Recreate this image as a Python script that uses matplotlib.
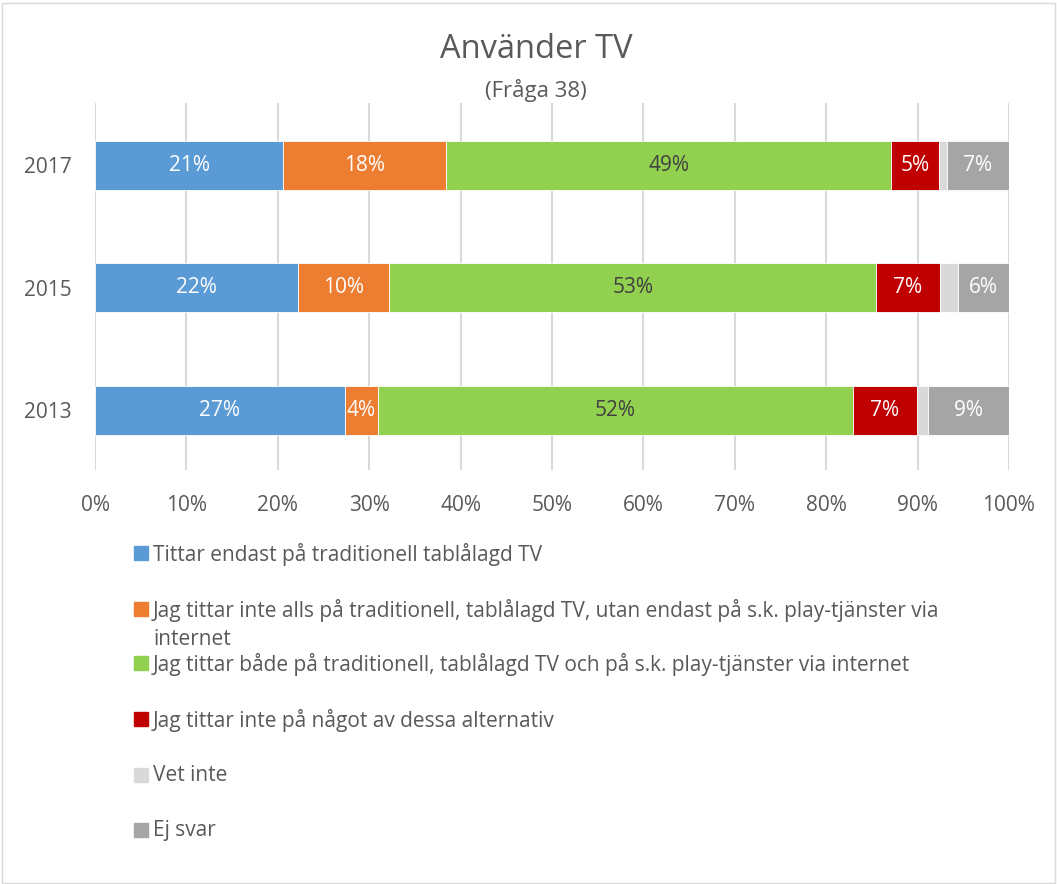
import matplotlib.pyplot as plt
from matplotlib.patches import Rectangle
import numpy as np

plt.rcParams["font.family"] = ["Open Sans", "DejaVu Sans"]

years = ["2013", "2015", "2017"]
series = [
    "Tittar endast på traditionell tablålagd TV",
    "Jag tittar inte alls på traditionell, tablålagd TV, utan endast på s.k. play-tjänster via\ninternet",
    "Jag tittar både på traditionell, tablålagd TV och på s.k. play-tjänster via internet",
    "Jag tittar inte på något av dessa alternativ",
    "Vet inte",
    "Ej svar",
]
# percent per series, in order of years (2013, 2015, 2017)
tittar_endast = [27.3, 22.2, 20.6]
endast_play = [3.7, 10.0, 17.8]
bade = [51.9, 53.3, 48.7]
inget = [7.0, 6.9, 5.2]
vet_inte = [1.2, 2.0, 0.9]
ej_svar = [8.9, 5.6, 6.8]
values = [tittar_endast, endast_play, bade, inget, vet_inte, ej_svar]

colors = ["#5b9bd5", "#ed7d31", "#92d050", "#c00000", "#d9d9d9", "#a5a5a5"]
label_colors = ["white", "white", "#404040", "white", None, "white"]

fig = plt.figure(figsize=(10.57, 8.84), dpi=100)
ax = fig.add_axes([95 / 1057, 1 - 470 / 884, (1009 - 95) / 1057, (470 - 103) / 884])

y = np.arange(len(years))
left = np.zeros(len(years))
for vals, col, lc in zip(values, colors, label_colors):
    vals = np.array(vals)
    ax.barh(y, vals, left=left, height=0.4, color=col, edgecolor="white",
            linewidth=0.6, zorder=3)
    if lc is not None:
        for yi, l, v in zip(y, left, vals):
            ax.text(l + v / 2, yi, f"{round(v):.0f}%", ha="center", va="center",
                    color=lc, fontsize=15, zorder=4)
    left += vals

ax.set_xlim(0, 100)
ax.set_ylim(-0.49, 2.51)
ax.set_xticks(np.arange(0, 101, 10))
ax.set_xticklabels([f"{t}%" for t in range(0, 101, 10)])
ax.set_yticks(y)
ax.set_yticklabels(years)
ax.tick_params(length=0, labelsize=15, labelcolor="#595959")
ax.tick_params(axis="x", pad=18)
ax.tick_params(axis="y", pad=17)
ax.grid(axis="x", color="#d9d9d9", linewidth=1.5, zorder=0)
for s in ax.spines.values():
    s.set_visible(False)

fig.text(536 / 1057, 1 - 49 / 884, "Använder TV", ha="center", va="center",
         fontsize=23.5, color="#595959")
fig.text(536 / 1057, 1 - 90 / 884, "(Fråga 38)", ha="center", va="center",
         fontsize=16, color="#595959")

# legend drawn by hand, one entry per row
rows = [553, 609, 663, 719, 775, 830]
for name, col, yy in zip(series, colors, rows):
    fig.patches.append(Rectangle((134 / 1057, 1 - (yy + 7) / 884), 14 / 1057, 14 / 884,
                                 transform=fig.transFigure, color=col))
    fig.text(153 / 1057, 1 - (yy - 10) / 884, name, ha="left", va="top",
             fontsize=15, color="#595959", linespacing=1.42)

fig.patches.append(Rectangle((1.5 / 1057, 1.5 / 884), 1053 / 1057, 880 / 884,
                             transform=fig.transFigure, fill=False,
                             edgecolor="#d9d9d9", linewidth=1))

fig.savefig("out.png", dpi=100)
